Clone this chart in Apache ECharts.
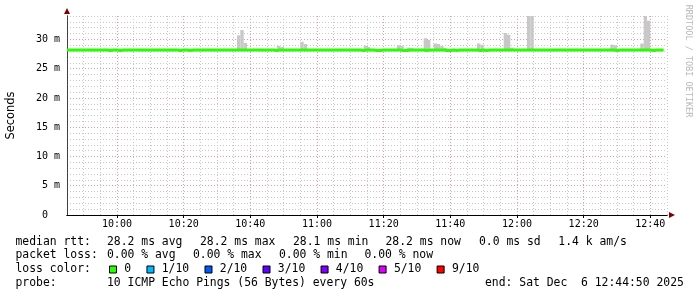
<!DOCTYPE html>
<html>
<head>
<meta charset="utf-8">
<script src="https://cdn.jsdelivr.net/npm/echarts@6/dist/echarts.min.js"></script>
<style>
html,body{margin:0;padding:0;background:#ffffff;}
#chart{width:697px;height:297px;}
</style>
</head>
<body>
<div id="chart"></div>
<script>
// ---- data ----
const startTime = '09:45';
const endTime = '12:45';
const xTickLabels = ['10:00','10:20','10:40','11:00','11:20','11:40','12:00','12:20','12:40'];
const yTickValues = [0, 5, 10, 15, 20, 25, 30];

// median RTT (ms), one value per minute starting 09:45
const medianRtt = [
  28.2,28.2,28.2,28.2,28.2,28.2,28.2,28.2,28.2,28.2,
  28.2,28.2,28.1,28.2,28.2,28.1,28.2,28.2,28.2,28.2,
  28.2,28.2,28.2,28.2,28.2,28.2,28.2,28.2,28.2,28.2,
  28.2,28.2,28.2,28.1,28.2,28.2,28.1,28.2,28.2,28.2,
  28.2,28.2,28.2,28.2,28.2,28.2,28.2,28.2,28.2,28.2,
  28.2,28.2,28.2,28.2,28.2,28.2,28.2,28.2,28.2,28.2,
  28.2,28.2,28.1,28.2,28.2,28.2,28.2,28.2,28.2,28.2,
  28.2,28.2,28.2,28.2,28.2,28.2,28.2,28.2,28.2,28.2,
  28.2,28.2,28.2,28.2,28.2,28.2,28.2,28.2,28.1,28.2,
  28.2,28.2,28.1,28.1,28.2,28.2,28.2,28.2,28.2,28.2,
  28.1,28.1,28.2,28.2,28.2,28.2,28.2,28.1,28.2,28.2,
  28.2,28.2,28.2,28.1,28.1,28.2,28.1,28.2,28.2,28.2,
  28.2,28.2,28.2,28.1,28.2,28.1,28.2,28.2,28.2,28.2,
  28.2,28.2,28.2,28.2,28.2,28.2,28.2,28.2,28.2,28.2,
  28.2,28.2,28.2,28.2,28.2,28.2,28.2,28.2,28.2,28.2,
  28.2,28.2,28.2,28.2,28.2,28.2,28.2,28.2,28.2,28.2,
  28.2,28.2,28.2,28.2,28.1,28.2,28.2,28.2,28.2,28.2,
  28.2,28.2,28.2,28.2,28.2,28.1,28.2,28.2,28.2,28.2
];

// smoke (ping spread) maxima where visible above the median
const smokeTimes = ['10:36','10:37','10:38','10:48','10:49','10:55','10:56',
  '11:14','11:15','11:24','11:25','11:27','11:28','11:32','11:33',
  '11:35','11:36','11:37','11:38','11:48','11:49','11:56','11:57','11:58',
  '12:03','12:04','12:28','12:29','12:37','12:38','12:39'];
const smokeMax = [30.7,31.6,29.4,28.9,28.7,29.6,29.2,
  28.9,28.7,29.0,28.9,28.6,28.5,30.2,29.9,
  29.3,29.2,28.85,28.55,29.3,29.1,31.1,30.8,28.6,
  35.0,35.0,29.1,29.0,29.3,35.0,33.2];

const lossNames = ['0','1/10','2/10','3/10','4/10','5/10','9/10'];
const lossColors = ['#26ff00','#00b8ff','#0059ff','#5e00ff','#7e00ff','#dd00ff','#ff0000'];

const rttStats = ['28.2 ms avg','28.2 ms max','28.1 ms min','28.2 ms now','0.0 ms sd','1.4 k am/s'];
const lossStats = ['0.00 % avg','0.00 % max','0.00 % min','0.00 % now'];
const probeText = '10 ICMP Echo Pings (56 Bytes) every 60s';
const endText = 'end: Sat Dec  6 12:44:50 2025';

// ---- helpers ----
const toMin = s => { const p = s.split(':'); return (+p[0]) * 60 + (+p[1]); };
const fmt = v => { const h = Math.floor(v / 60), m = v % 60; return (h < 10 ? '0' : '') + h + ':' + (m < 10 ? '0' : '') + m; };
const t0 = toMin(startTime);
const medianData = medianRtt.map((v, i) => [t0 + i, v]);
const smokeData = smokeTimes.map((t, i) => {
  const tm = toMin(t);
  return [tm, medianRtt[tm - t0], smokeMax[i]];
});

const MONO = 'DejaVu Sans Mono';
const minorC = '#c8c8c8', majorC = '#eb9a9a';

// text layout (positions only)
const rttX = [107, 200, 293, 385.5, 479, 558.3];
const lossX = [107, 193, 279, 364.5];
const rowY = [242, 255.5, 269.5, 283.5];
function txt(s, x, y, extra) {
  return { type: 'text', x: x, y: y, silent: true,
    style: Object.assign({ text: s, fontFamily: MONO, fontSize: 11.4, fill: '#000', verticalAlign: 'middle' }, extra || {}) };
}
const graphics = [
  txt('median rtt:', 15.5, rowY[0]),
  txt('packet loss:', 15.5, rowY[1]),
  txt('loss color:', 15.5, rowY[2]),
  txt('probe:', 15.5, rowY[3]),
  txt(probeText, 107, rowY[3]),
  txt(endText, 485, rowY[3])
];
rttStats.forEach((s, i) => graphics.push(txt(s, rttX[i], rowY[0])));
lossStats.forEach((s, i) => graphics.push(txt(s, lossX[i], rowY[1])));
graphics.push({ type: 'text', x: 688, y: 61, rotation: -Math.PI / 2, silent: true,
  style: { text: 'RRDTOOL / TOBI OETIKER', fontFamily: MONO, fontSize: 8.5, fill: '#b8b8b8', align: 'center', verticalAlign: 'middle' } });

const chart = echarts.init(document.getElementById('chart'), null, { renderer: 'canvas' });
const xMin = toMin(startTime), xMax = toMin(endTime);
const xTickValues = xTickLabels.map(toMin);

chart.setOption({
  animation: false,
  backgroundColor: '#ffffff',
  grid: { left: 67, top: 16, width: 600, height: 199, containLabel: false, outerBoundsMode: 'none' },
  legend: {
    data: lossNames.map(n => ({ name: n, icon: 'rect' })),
    left: 109, top: 264, padding: 0,
    itemWidth: 7, itemHeight: 7, itemGap: 15.3,
    selectedMode: false,
    itemStyle: { borderColor: '#000', borderWidth: 1 },
    textStyle: { fontFamily: MONO, fontSize: 11.4, color: '#000', padding: [0, 0, 0, 2.8] }
  },
  xAxis: [{
    type: 'value', min: xMin, max: xMax, interval: 5,
    axisLine: { show: true, onZero: false, lineStyle: { color: '#7f0000', width: 1 },
      symbol: ['none', 'triangle'], symbolSize: [6, 6], symbolOffset: [0, 5] },
    axisTick: { show: false },
    axisLabel: { formatter: v => xTickLabels.includes(fmt(v)) ? fmt(v) : '',
      fontFamily: MONO, fontSize: 10, color: '#000', margin: 4.5, hideOverlap: false },
    splitLine: { show: true, lineStyle: { color: [minorC, minorC, minorC, majorC], type: [1, 2], width: 1 } }
  }, {
    type: 'value', min: xMin, max: xMax, interval: 5, position: 'bottom',
    axisLine: { show: true, onZero: false, lineStyle: { color: '#000', width: 1 } },
    axisTick: { show: true, customValues: xTickValues, length: 3, inside: false, lineStyle: { color: '#000' } },
    axisLabel: { show: false },
    splitLine: { show: false }
  }],
  yAxis: [{
    type: 'value', min: 0, max: 34, interval: 1,
    name: 'Seconds', nameLocation: 'middle', nameGap: 50, nameRotate: 90,
    nameTextStyle: { fontFamily: 'DejaVu Sans', fontSize: 11.4, color: '#000' },
    axisLine: { show: true, lineStyle: { color: '#7f0000', width: 1 },
      symbol: ['none', 'triangle'], symbolSize: [6, 6], symbolOffset: [0, 5] },
    axisTick: { show: false },
    axisLabel: { formatter: v => yTickValues.includes(v) ? (v === 0 ? '0  ' : v + ' m') : '',
      fontFamily: MONO, fontSize: 10, color: '#000', margin: 7 },
    splitLine: { show: true, lineStyle: { color: [majorC, minorC, minorC, minorC, minorC], type: [1, 2], width: 1 } }
  }, {
    type: 'value', min: 0, max: 34, interval: 1, position: 'left',
    axisLine: { show: true, lineStyle: { color: '#404040', width: 1 } },
    axisTick: { show: false }, axisLabel: { show: false }, splitLine: { show: false }
  }],
  series: [{
    type: 'custom', name: 'smoke', silent: true, z: 2,
    xAxisIndex: 0, yAxisIndex: 0,
    encode: { x: 0, y: [1, 2] },
    data: smokeData,
    renderItem: function (params, api) {
      const t = api.value(0), lo = api.value(1), hi = api.value(2);
      const p0 = api.coord([t, hi]);
      const p1 = api.coord([t + 1, lo]);
      const cs = params.coordSys;
      const shape = echarts.graphic.clipRectByRect(
        { x: p0[0], y: p0[1], width: p1[0] - p0[0], height: p1[1] - p0[1] },
        { x: cs.x, y: cs.y, width: cs.width, height: cs.height });
      return shape && { type: 'rect', shape: shape, style: { fill: '#c8c8c8' } };
    }
  }, {
    type: 'line', name: 'median', silent: true, z: 3,
    xAxisIndex: 0, yAxisIndex: 0,
    data: medianData, step: 'end', symbol: 'none',
    lineStyle: { color: '#26ff00', width: 3 }
  }].concat(lossNames.map((n, i) => ({
    type: 'line', name: n, data: [], xAxisIndex: 0, yAxisIndex: 0,
    itemStyle: { color: lossColors[i] }, lineStyle: { color: lossColors[i] }
  }))),
  graphic: graphics
});
</script>
</body>
</html>
